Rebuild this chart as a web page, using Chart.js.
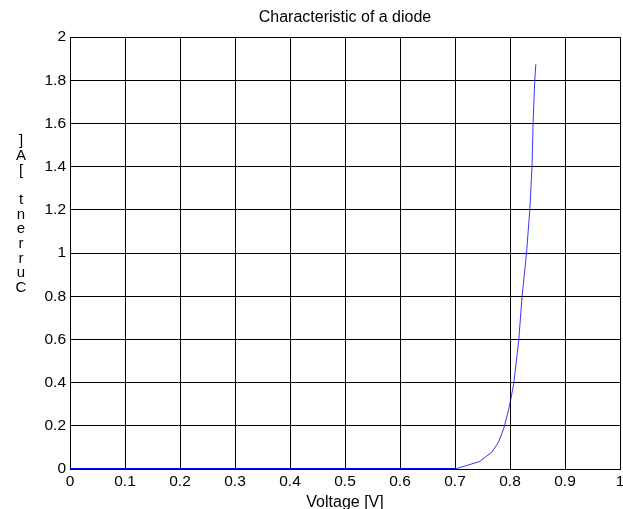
<!DOCTYPE html>
<html>
<head>
<meta charset="utf-8">
<script src="https://cdn.jsdelivr.net/npm/chart.js@4"></script>
<style>
  html, body { margin: 0; padding: 0; background: #fff; }
  #wrap { width: 623px; height: 509px; }
</style>
</head>
<body>
<div id="wrap"><canvas id="diodeChart" width="623" height="509"></canvas></div>
<script>
// Diode I-V data
const offVoltage = [0, 0.1, 0.2, 0.3, 0.4, 0.5, 0.6, 0.7];
const offCurrent = [0, 0, 0, 0, 0, 0, 0, 0];
const onVoltage = [0.7, 0.721, 0.745, 0.767, 0.779, 0.789, 0.797, 0.801, 0.807, 0.816, 0.822, 0.83, 0.836, 0.84, 0.842, 0.845, 0.847];
const onCurrent = [0, 0.016, 0.035, 0.078, 0.124, 0.19, 0.27, 0.317, 0.4, 0.6, 0.8, 1.0, 1.2, 1.4, 1.6, 1.8, 1.875];

const xTickLabels = ["0", "0.1", "0.2", "0.3", "0.4", "0.5", "0.6", "0.7", "0.8", "0.9", "1"];
const yTickLabels = ["0", "0.2", "0.4", "0.6", "0.8", "1", "1.2", "1.4", "1.6", "1.8", "2"];

const chartTitle = "Characteristic of a diode";
const xAxisTitle = "Voltage [V]";
const yAxisTitle = "Current [A]";

const fontFamily = "'Liberation Sans', Arial, Helvetica, sans-serif";

// pair up x/y arrays for the linear x scale
function toPoints(xs, ys) {
  return xs.map((x, i) => ({ x: x, y: ys[i] }));
}

// Draw the y axis label as upright letters stacked from the bottom up
const stackedYLabel = {
  id: "stackedYLabel",
  afterDraw(chart) {
    const ctx = chart.ctx;
    const chars = yAxisTitle.split("").reverse();
    ctx.save();
    ctx.fillStyle = "#000";
    ctx.font = "15px " + fontFamily;
    ctx.textAlign = "center";
    ctx.textBaseline = "middle";
    chars.forEach((ch, i) => {
      ctx.fillText(ch, 21, 141 + i * 14.7);
    });
    ctx.restore();
  },
};

const ctx = document.getElementById("diodeChart").getContext("2d");

new Chart(ctx, {
  type: "line",
  data: {
    datasets: [
      {
        data: toPoints(offVoltage, offCurrent),
        borderColor: "#0000ff",
        borderWidth: 2,
        pointRadius: 0,
        tension: 0,
        fill: false,
      },
      {
        data: toPoints(onVoltage, onCurrent),
        borderColor: "#0000ff",
        borderWidth: 0.8,
        pointRadius: 0,
        tension: 0,
        fill: false,
      },
    ],
  },
  plugins: [stackedYLabel],
  options: {
    responsive: false,
    animation: false,
    layout: {
      padding: { left: 0, right: 3, top: 0, bottom: 0 },
    },
    scales: {
      x: {
        type: "linear",
        min: 0,
        max: 1,
        ticks: {
          stepSize: 0.1,
          color: "#000",
          padding: 3,
          maxRotation: 0,
          font: { family: fontFamily, size: 15.5 },
          callback: (value, index) => xTickLabels[index],
        },
        grid: { color: "#000", lineWidth: 1, tickLength: 0 },
        border: { color: "#000", width: 1 },
        title: {
          display: true,
          text: xAxisTitle,
          color: "#000",
          font: { family: fontFamily, size: 16 },
          padding: { top: 0, bottom: -3 },
        },
        afterFit: (scale) => {
          scale.height = 40;
          scale.paddingLeft = 0;
          scale.paddingRight = 0;
        },
      },
      y: {
        type: "linear",
        min: 0,
        max: 2,
        ticks: {
          stepSize: 0.2,
          color: "#000",
          padding: 4,
          font: { family: fontFamily, size: 15.5 },
          callback: (value, index) => yTickLabels[index],
        },
        grid: { color: "#000", lineWidth: 1, tickLength: 0 },
        border: { color: "#000", width: 1 },
        afterFit: (scale) => {
          scale.width = 70;
        },
      },
    },
    plugins: {
      legend: { display: false },
      tooltip: { enabled: false },
      title: {
        display: true,
        text: chartTitle,
        fullSize: false,
        color: "#000",
        font: { family: fontFamily, size: 16, weight: "normal" },
        padding: { top: 8, bottom: 10 },
      },
    },
  },
});
</script>
</body>
</html>
